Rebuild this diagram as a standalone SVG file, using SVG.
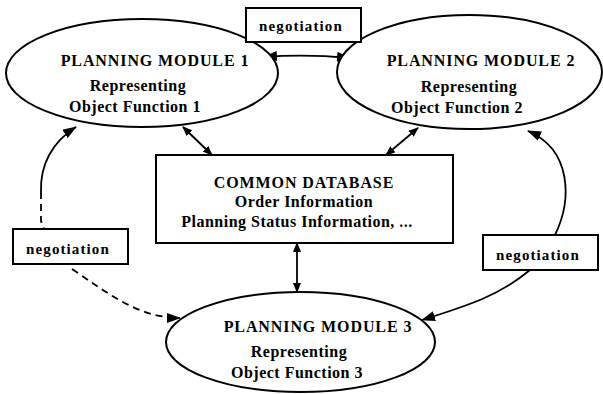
<svg xmlns="http://www.w3.org/2000/svg" width="603" height="394" viewBox="0 0 603 394">
<defs>
<style>
.shape{fill:#fff;stroke:#000;stroke-width:2}
.t{font-family:"Liberation Serif","Times New Roman",serif;font-weight:bold;fill:#000;text-anchor:middle}
.h{font-size:16px;letter-spacing:0.9px}
.b{font-size:16px;letter-spacing:0.5px}
.n{font-size:15px;letter-spacing:1.1px}
.c{fill:none;stroke:#000;stroke-width:1.8}
.d{stroke-dasharray:7,5}
</style>
<marker id="ah" viewBox="0 0 14 10" refX="13" refY="5" markerWidth="14" markerHeight="10" markerUnits="userSpaceOnUse" orient="auto-start-reverse">
<path d="M0,0 L14,5 L0,10 Z" fill="#000"/>
</marker>
<marker id="as" viewBox="0 0 10 8" refX="9" refY="4" markerWidth="10" markerHeight="8" markerUnits="userSpaceOnUse" orient="auto-start-reverse">
<path d="M0,0 L10,4 L0,8 Z" fill="#000"/>
</marker>
</defs>
<g id="connectors">
<path class="c" d="M264,57 Q306,54 350,58" marker-start="url(#ah)" marker-end="url(#ah)"/>
<path class="c" d="M183,127 L212,155" marker-start="url(#as)" marker-end="url(#as)"/>
<path class="c" d="M418,128 L386,155" marker-start="url(#as)" marker-end="url(#as)"/>
<path class="c" d="M297,243 L297,292" marker-start="url(#as)" marker-end="url(#as)"/>
<path class="c" d="M41,192 C40,165 52,142 76,127" marker-end="url(#ah)"/>
<path class="c d" d="M41,192 L41,221 L44,229"/>
<path class="c d" d="M72,269 C110,295 140,318 180,318" marker-end="url(#ah)"/>
<path class="c" d="M555,235 C572,200 572,150 528,131" marker-end="url(#ah)"/>
<path class="c" d="M530,270 C500,295 470,305 422,320" marker-end="url(#ah)"/>
</g>
<g id="pm1">
<ellipse class="shape" cx="142" cy="73" rx="136" ry="54"/>
<text class="t h" x="155" y="66">PLANNING MODULE 1</text>
<text class="t b" x="138" y="91">Representing</text>
<text class="t b" x="135" y="112">Object Function 1</text>
</g>
<g id="pm2">
<ellipse class="shape" cx="469.5" cy="72" rx="132.5" ry="57"/>
<text class="t h" x="481" y="66">PLANNING MODULE 2</text>
<text class="t b" x="469" y="92">Representing</text>
<text class="t b" x="457" y="113">Object Function 2</text>
</g>
<g id="pm3">
<ellipse class="shape" cx="300.5" cy="342" rx="134.5" ry="50"/>
<text class="t h" x="318" y="332">PLANNING MODULE 3</text>
<text class="t b" x="299" y="357">Representing</text>
<text class="t b" x="297" y="378">Object Function 3</text>
</g>
<g id="db">
<rect class="shape" x="156" y="155" width="297" height="88"/>
<text class="t h" x="304" y="188">COMMON DATABASE</text>
<text class="t b" x="304" y="207">Order Information</text>
<text class="t b" x="297" y="227">Planning Status Information,  ...</text>
</g>
<g id="neg-top">
<rect class="shape" x="246" y="8" width="115" height="34"/>
<text class="t n" x="301" y="31">negotiation</text>
</g>
<g id="neg-left">
<rect class="shape" x="13" y="229" width="115" height="35"/>
<text class="t n" x="68" y="254">negotiation</text>
</g>
<g id="neg-right">
<rect class="shape" x="483" y="235" width="115" height="35"/>
<text class="t n" x="538" y="260">negotiation</text>
</g>
</svg>
